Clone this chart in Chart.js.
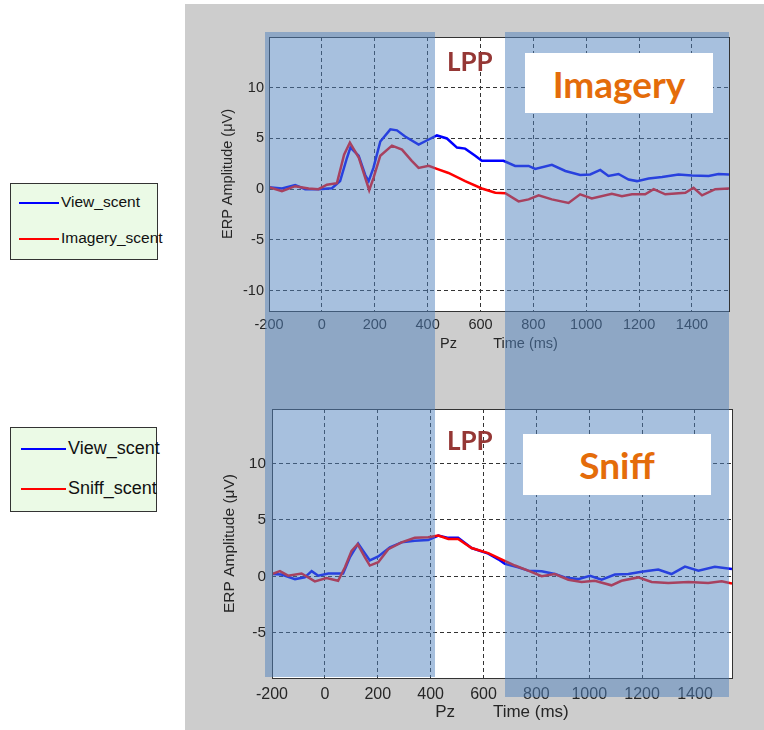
<!DOCTYPE html>
<html>
<head>
<meta charset="utf-8">
<script src="https://cdn.jsdelivr.net/npm/chart.js@4/dist/chart.umd.min.js"></script>
<style>
  body { margin: 0; width: 764px; height: 730px; position: relative; background: #fff; overflow: hidden;
         font-family: "Liberation Sans", Arial, sans-serif; }
  #panel { position: absolute; left: 185px; top: 4px; width: 579px; height: 726px; background: #cdcdcd; }
  canvas { position: absolute; z-index: 1; }
  .shade { position: absolute; z-index: 2; background: rgba(79, 129, 189, 0.5); }
  .tag { position: absolute; z-index: 3; font-family: Lato, sans-serif; font-weight: bold; white-space: nowrap; line-height: 1; }
  .lpp { color: #953735; font-size: 26px; }
  .cond { background: #fff; color: #e46c0a; font-size: 37px; display: flex; align-items: center; justify-content: center; }
  .legend { position: absolute; z-index: 3; background: #ebfae6; border: 1px solid #333; box-sizing: border-box; }
  .legend .ln { position: absolute; height: 2px; }
  .legend .tx { position: absolute; color: #111; white-space: nowrap; line-height: 1; }
</style>
</head>
<body>
<div id="panel"></div>
<canvas id="imgChart" width="579" height="365" style="left:185px;top:0px"></canvas>
<canvas id="snfChart" width="579" height="360" style="left:185px;top:370px"></canvas>

<div class="tag lpp" style="left:447px;top:48px">LPP</div>
<div class="tag cond" style="left:525px;top:53px;width:188px;height:60px">Imagery</div>
<div class="tag lpp" style="left:447px;top:427px">LPP</div>
<div class="tag cond" style="left:523px;top:434px;width:188px;height:61px">Sniff</div>

<script>
// Pz grand averages, time in ms, amplitude in microvolts
const imgViewT = [-200, -151, -101, -63, -13, 38, 69, 95, 108, 139, 164, 177, 195, 221, 259, 284, 315, 366, 404, 435,
  473, 511, 542, 580, 605, 687, 731, 782, 807, 870, 921, 977, 1015, 1053, 1084, 1122, 1160, 1192, 1236, 1287,
  1349, 1400, 1463, 1500, 1540];
const imgViewV = [0.2, 0.07, 0.4, 0, 0, 0.1, 0.8, 3.1, 4.1, 3.3, 1.4, 0.8, 2.1, 4.7, 5.9, 5.8, 5.2, 4.4, 4.9, 5.3,
  5.0, 4.1, 4.0, 3.3, 2.8, 2.8, 2.3, 2.3, 2.0, 2.4, 1.8, 1.4, 1.45, 1.9, 1.3, 1.5, 0.95, 0.8, 1.05, 1.2,
  1.45, 1.35, 1.3, 1.5, 1.45];

const imgImagT = [-200, -151, -101, -50, -13, 19, 57, 84, 106, 140, 179, 195, 221, 265, 303, 340, 366, 404, 435, 479,
  542, 605, 656, 694, 744, 782, 820, 870, 933, 977, 1021, 1097, 1135, 1173, 1223, 1255, 1299, 1375, 1406, 1438,
  1488, 1540];
const imgImagV = [0.2, -0.2, 0.3, 0.07, 0, 0.45, 0.6, 3.4, 4.6, 3.1, -0.1, 1.1, 3.3, 4.3, 3.9, 2.8, 2.1, 2.3, 2.0, 1.6,
  0.8, 0.07, -0.35, -0.4, -1.2, -1.0, -0.6, -1.0, -1.35, -0.5, -0.9, -0.45, -0.7, -0.5, -0.5, 0, -0.5, -0.35, 0.15, -0.6,
  0, 0.07];

const snfViewT = [-200, -164, -113, -76, -50, -25, 13, 69, 95, 126, 145, 170, 202, 246, 290, 340, 391, 429, 467, 504,
  555, 618, 656, 681, 731, 769, 820, 870, 908, 958, 1003, 1047, 1097, 1148, 1198, 1261, 1311, 1362, 1413, 1475, 1540];
const snfViewV = [0.2, 0.15, -0.25, -0.1, 0.45, 0.05, 0.25, 0.25, 1.7, 2.9, 2.25, 1.4, 1.75, 2.55, 3.0, 3.15, 3.2, 3.6, 3.4, 3.4,
  2.5, 2.0, 1.5, 1.1, 0.8, 0.5, 0.45, 0.2, -0.1, -0.25, 0.05, -0.3, 0.15, 0.2, 0.4, 0.6, 0.2, 0.85, 0.5, 0.85, 0.65];

const snfSniffT = [-200, -170, -139, -88, -38, 6, 50, 76, 101, 124, 151, 170, 202, 240, 290, 340, 391, 429, 467, 504,
  555, 618, 668, 719, 769, 820, 870, 921, 971, 1021, 1084, 1122, 1185, 1236, 1299, 1375, 1450, 1501, 1540];
const snfSniffV = [0.2, 0.45, 0.05, 0.25, -0.45, -0.15, -0.4, 0.8, 2.25, 2.85, 1.7, 0.95, 1.25, 2.4, 3.0, 3.4, 3.45, 3.6, 3.3, 3.3,
  2.5, 2.05, 1.5, 0.95, 0.5, 0, 0.2, -0.3, -0.5, -0.4, -0.8, -0.4, -0.1, -0.5, -0.6, -0.5, -0.6, -0.45, -0.65];

const xTicks = [-200, 0, 200, 400, 600, 800, 1000, 1200, 1400];
const yTicks = [-10, -5, 0, 5, 10];
// shaded areas outside the LPP window (ms)
const shadeBands = [[-215, 428], [693, 1540]];

function pts(t, v) {
  return t.map((x, i) => ({ x: x, y: v[i] }));
}

// white plot area + box around it
const frame = {
  id: 'frame',
  beforeDraw(chart) {
    const a = chart.chartArea, ctx = chart.ctx;
    ctx.save();
    ctx.fillStyle = '#fff';
    ctx.fillRect(a.left, a.top, a.right - a.left, a.bottom - a.top);
    ctx.restore();
  },
  afterDraw(chart) {
    const a = chart.chartArea, ctx = chart.ctx;
    ctx.save();
    ctx.strokeStyle = '#333';
    ctx.lineWidth = 1;
    ctx.strokeRect(Math.round(a.left) + 0.5, Math.round(a.top) + 0.5,
      Math.round(a.right - a.left), Math.round(a.bottom - a.top));
    ctx.restore();
  }
};

function makeChart(id, sets, opt) {
  return new Chart(document.getElementById(id), {
    type: 'line',
    data: {
      datasets: sets.map(s => ({
        label: s.label,
        data: s.data,
        borderColor: s.color,
        borderWidth: 2.5,
        pointRadius: 0,
        tension: 0,
        fill: false,
        order: s.order
      }))
    },
    options: {
      responsive: false,
      animation: false,
      events: [],
      layout: { padding: opt.padding },
      plugins: { legend: { display: false }, tooltip: { enabled: false } },
      scales: {
        x: {
          type: 'linear',
          min: -200,
          max: 1540,
          afterBuildTicks: s => { s.ticks = xTicks.filter(v => v >= s.min && v <= s.max).map(v => ({ value: v })); },
          afterFit: s => { s.height = opt.xHeight; },
          grid: { color: '#333', lineWidth: 1, drawTicks: false },
          border: { display: false, dash: [4, 3] },
          ticks: { autoSkip: false, maxRotation: 0, padding: opt.xPad, color: '#262626',
                   callback: v => String(v),
                   font: { family: 'Liberation Sans', size: opt.xFont } },
          title: { display: true, text: opt.xTitle, color: '#262626',
                   font: { family: 'Liberation Sans', size: opt.titleFont },
                   padding: { top: 0, bottom: opt.xTitlePad } }
        },
        y: {
          min: opt.yMin,
          max: opt.yMax,
          afterBuildTicks: s => { s.ticks = yTicks.filter(v => v >= s.min && v <= s.max).map(v => ({ value: v })); },
          afterFit: s => { s.width = opt.yWidth; },
          grid: { color: '#333', lineWidth: 1, drawTicks: false },
          border: { display: false, dash: [4, 3] },
          ticks: { padding: opt.yPad, color: '#262626',
                   callback: v => String(v),
                   font: { family: 'Liberation Sans', size: opt.yFont } },
          title: { display: true, text: 'ERP Amplitude (\u03bcV)', color: '#262626',
                   font: { family: 'Liberation Sans', size: opt.yTitleFont },
                   padding: { top: opt.yTitlePad, bottom: 0 } }
        }
      }
    },
    plugins: [frame]
  });
}

const imgChart = makeChart('imgChart', [
  { label: 'View_scent', data: pts(imgViewT, imgViewV), color: '#0000ff', order: 1 },
  { label: 'Imagery_scent', data: pts(imgImagT, imgImagV), color: '#ff0000', order: 0 }
], {
  padding: { left: 0, top: 37, right: 35, bottom: 9 },
  xHeight: 45, yWidth: 84, yMin: -12, yMax: 15,
  xFont: 14.5, yFont: 14.5, titleFont: 14.5, yTitleFont: 14.5,
  xPad: 5, yPad: 5, xTitlePad: 3, yTitlePad: 34,
  xTitle: 'Pz         Time (ms)'
});

const snfChart = makeChart('snfChart', [
  { label: 'View_scent', data: pts(snfViewT, snfViewV), color: '#0000ff', order: 1 },
  { label: 'Sniff_scent', data: pts(snfSniffT, snfSniffV), color: '#ff0000', order: 0 }
], {
  padding: { left: 0, top: 39, right: 32, bottom: 4 },
  xHeight: 48, yWidth: 87, yMin: -9, yMax: 14.8,
  xFont: 16, yFont: 15.5, titleFont: 17, yTitleFont: 15.5,
  xPad: 7, yPad: 6, xTitlePad: 3, yTitlePad: 35,
  xTitle: 'Pz        Time (ms)'
});

// translucent blue slide shapes laid over both plots
const xs = imgChart.scales.x;
const bandSpan = [[32, 677], [32, 697]];
shadeBands.forEach((b, i) => {
  const d = document.createElement('div');
  d.className = 'shade';
  const l = 185 + xs.getPixelForValue(b[0]);
  const r = 185 + xs.getPixelForValue(b[1]);
  d.style.left = Math.round(l) + 'px';
  d.style.width = Math.round(r - l) + 'px';
  d.style.top = bandSpan[i][0] + 'px';
  d.style.height = (bandSpan[i][1] - bandSpan[i][0]) + 'px';
  document.body.appendChild(d);
});

// legends built from the chart datasets
function legend(chart, box) {
  const div = document.createElement('div');
  div.className = 'legend';
  div.style.left = box.left + 'px';
  div.style.top = box.top + 'px';
  div.style.width = box.w + 'px';
  div.style.height = box.h + 'px';
  chart.data.datasets.forEach((ds, i) => {
    const y = box.rows[i];
    const ln = document.createElement('div');
    ln.className = 'ln';
    ln.style.left = box.lx + 'px';
    ln.style.width = box.lw + 'px';
    ln.style.top = (y - 1) + 'px';
    ln.style.background = ds.borderColor;
    const tx = document.createElement('div');
    tx.className = 'tx';
    tx.style.left = box.tx + 'px';
    tx.style.top = (y - box.font / 2 - 1) + 'px';
    tx.style.fontSize = box.font + 'px';
    tx.textContent = ds.label;
    div.appendChild(ln);
    div.appendChild(tx);
  });
  document.body.appendChild(div);
}

legend(imgChart, { left: 10, top: 183, w: 148, h: 77, rows: [19, 55], lx: 8, lw: 40, tx: 50, font: 15.5 });
legend(snfChart, { left: 10, top: 427, w: 147, h: 85, rows: [21, 61], lx: 10, lw: 45, tx: 57, font: 18 });
</script>
</body>
</html>
